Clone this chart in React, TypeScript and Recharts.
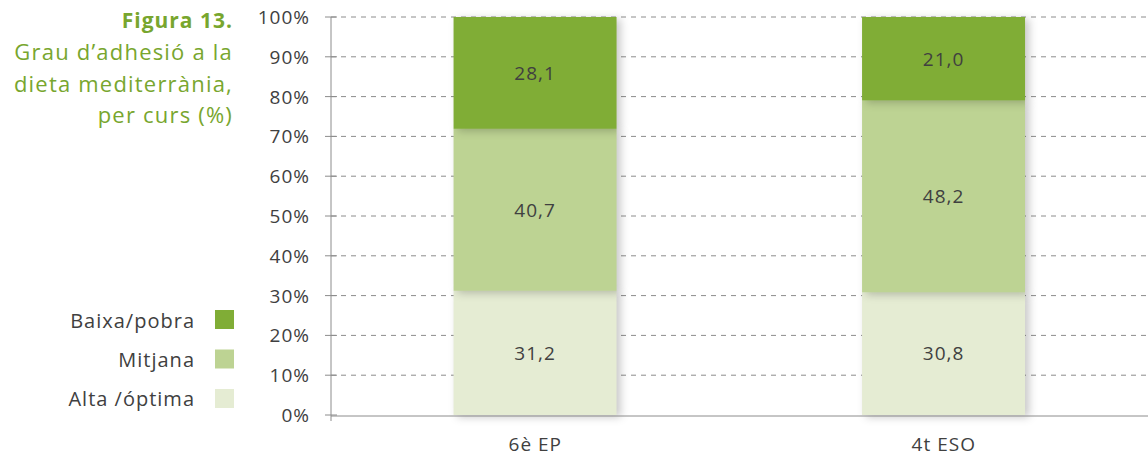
import React from 'react';
import { BarChart, Bar, XAxis, YAxis, CartesianGrid, LabelList } from 'recharts';

const categories = ['6è EP', '4t ESO'];
const altaOptima = [31.2, 30.8];
const mitjana = [40.7, 48.2];
const baixaPobra = [28.1, 21.0];
const yTicks = [0, 10, 20, 30, 40, 50, 60, 70, 80, 90, 100];
const gridValues = [10, 20, 30, 40, 50, 60, 70, 80, 90, 100];
const edgeTicks = [0, 1, 2];

const seriesKeys = ['alta', 'mitjana', 'baixa'];
const seriesNames = ['Alta /óptima', 'Mitjana', 'Baixa/pobra'];
const seriesColors = ['#e5ecd3', '#bdd393', '#80ad36'];

const titleLines = ['Grau d\u2019adhesió a la', 'dieta mediterrània,', 'per curs (%)'];
const titleBold = 'Figura 13.';

const FONT = '"Open Sans", sans-serif';
const TEXT = '#404040';
const AXIS = '#8c8c8c';
const GREEN = '#78a62e';

const data = categories.map((c, i) => ({
  cat: c,
  alta: altaOptima[i],
  mitjana: mitjana[i],
  baixa: baixaPobra[i],
}));

const fmt = (v: any) => Number(v).toFixed(1).replace('.', ',');

const YTick = (props: any) => {
  const { x, y, payload } = props;
  return (
    <g>
      <line x1={x - 6} x2={x + 6} y1={y} y2={y} stroke={AXIS} strokeWidth={1} />
      <text x={x - 21} y={y + 7} textAnchor="end" fill={TEXT} fontFamily={FONT} fontSize={19} letterSpacing={1}>
        {payload.value}%
      </text>
    </g>
  );
};

const XTick = (props: any) => {
  const { x, y, payload } = props;
  return (
    <text x={x} y={y + 35} textAnchor="middle" fill={TEXT} fontFamily={FONT} fontSize={19} letterSpacing={1}>
      {payload.value}
    </text>
  );
};

const EmptyTick = () => <g />;

const ShadowRect = (props: any) => {
  const { x, y, width, height, fill } = props;
  if (!height || height <= 0) return null;
  return (
    <rect
      x={x}
      y={y}
      width={width}
      height={height}
      fill={fill}
      style={{ filter: 'drop-shadow(4px 2px 4px rgba(0,0,0,0.22))' }}
    />
  );
};

export default function App() {
  return (
    <div style={{ position: 'fixed', left: 0, top: 0, width: 1148, height: 457, background: '#fff' }}>
      <BarChart
        width={1148}
        height={457}
        data={data}
        margin={{ top: 17, right: 0, bottom: 0, left: 0 }}
        barCategoryGap="30%"
      >
        <CartesianGrid horizontal vertical={false} horizontalValues={gridValues} stroke={AXIS} strokeDasharray="5 5" />
        <XAxis
          xAxisId="edges"
          type="number"
          domain={[0, 2]}
          ticks={edgeTicks}
          height={1}
          axisLine={false}
          tickLine={{ stroke: AXIS }}
          tickSize={6}
          tick={EmptyTick}
          allowDataOverflow
        />
        <XAxis
          xAxisId="main"
          dataKey="cat"
          height={41}
          axisLine={{ stroke: AXIS }}
          tickLine={false}
          tickSize={0}
          tickMargin={0}
          tick={<XTick />}
        />
        <YAxis
          type="number"
          domain={[0, 100]}
          ticks={yTicks}
          width={331}
          axisLine={{ stroke: AXIS }}
          tickLine={false}
          tickSize={0}
          tickMargin={0}
          tick={<YTick />}
          interval={0}
        />
        {seriesKeys.map((k, i) => (
          <Bar
            key={k}
            xAxisId="main"
            dataKey={k}
            name={seriesNames[i]}
            stackId="s"
            fill={seriesColors[i]}
            isAnimationActive={false}
            shape={<ShadowRect />}
          >
            <LabelList
              dataKey={k}
              position="center"
              formatter={fmt}
              fill={TEXT}
              fontFamily={FONT}
              fontSize={19}
              letterSpacing={1}
            />
          </Bar>
        ))}
      </BarChart>
      <svg width={240} height={457} style={{ position: 'absolute', left: 0, top: 0 }}>
        <text x={233} y={28} textAnchor="end" fill={GREEN} fontFamily={FONT} fontWeight={700} fontSize={21} letterSpacing={1}>
          {titleBold}
        </text>
        {titleLines.map((t, i) => (
          <text key={t} x={233} y={60 + i * 31.7} textAnchor="end" fill={GREEN} fontFamily={FONT} fontSize={22} letterSpacing={1.2}>
            {t}
          </text>
        ))}
        {[2, 1, 0].map((si, row) => (
          <g key={si}>
            <text x={195} y={328 + row * 39} textAnchor="end" fill={TEXT} fontFamily={FONT} fontSize={20} letterSpacing={1}>
              {seriesNames[si]}
            </text>
            <rect x={215} y={310 + row * 39.5} width={19} height={19} fill={seriesColors[si]} />
          </g>
        ))}
      </svg>
    </div>
  );
}
